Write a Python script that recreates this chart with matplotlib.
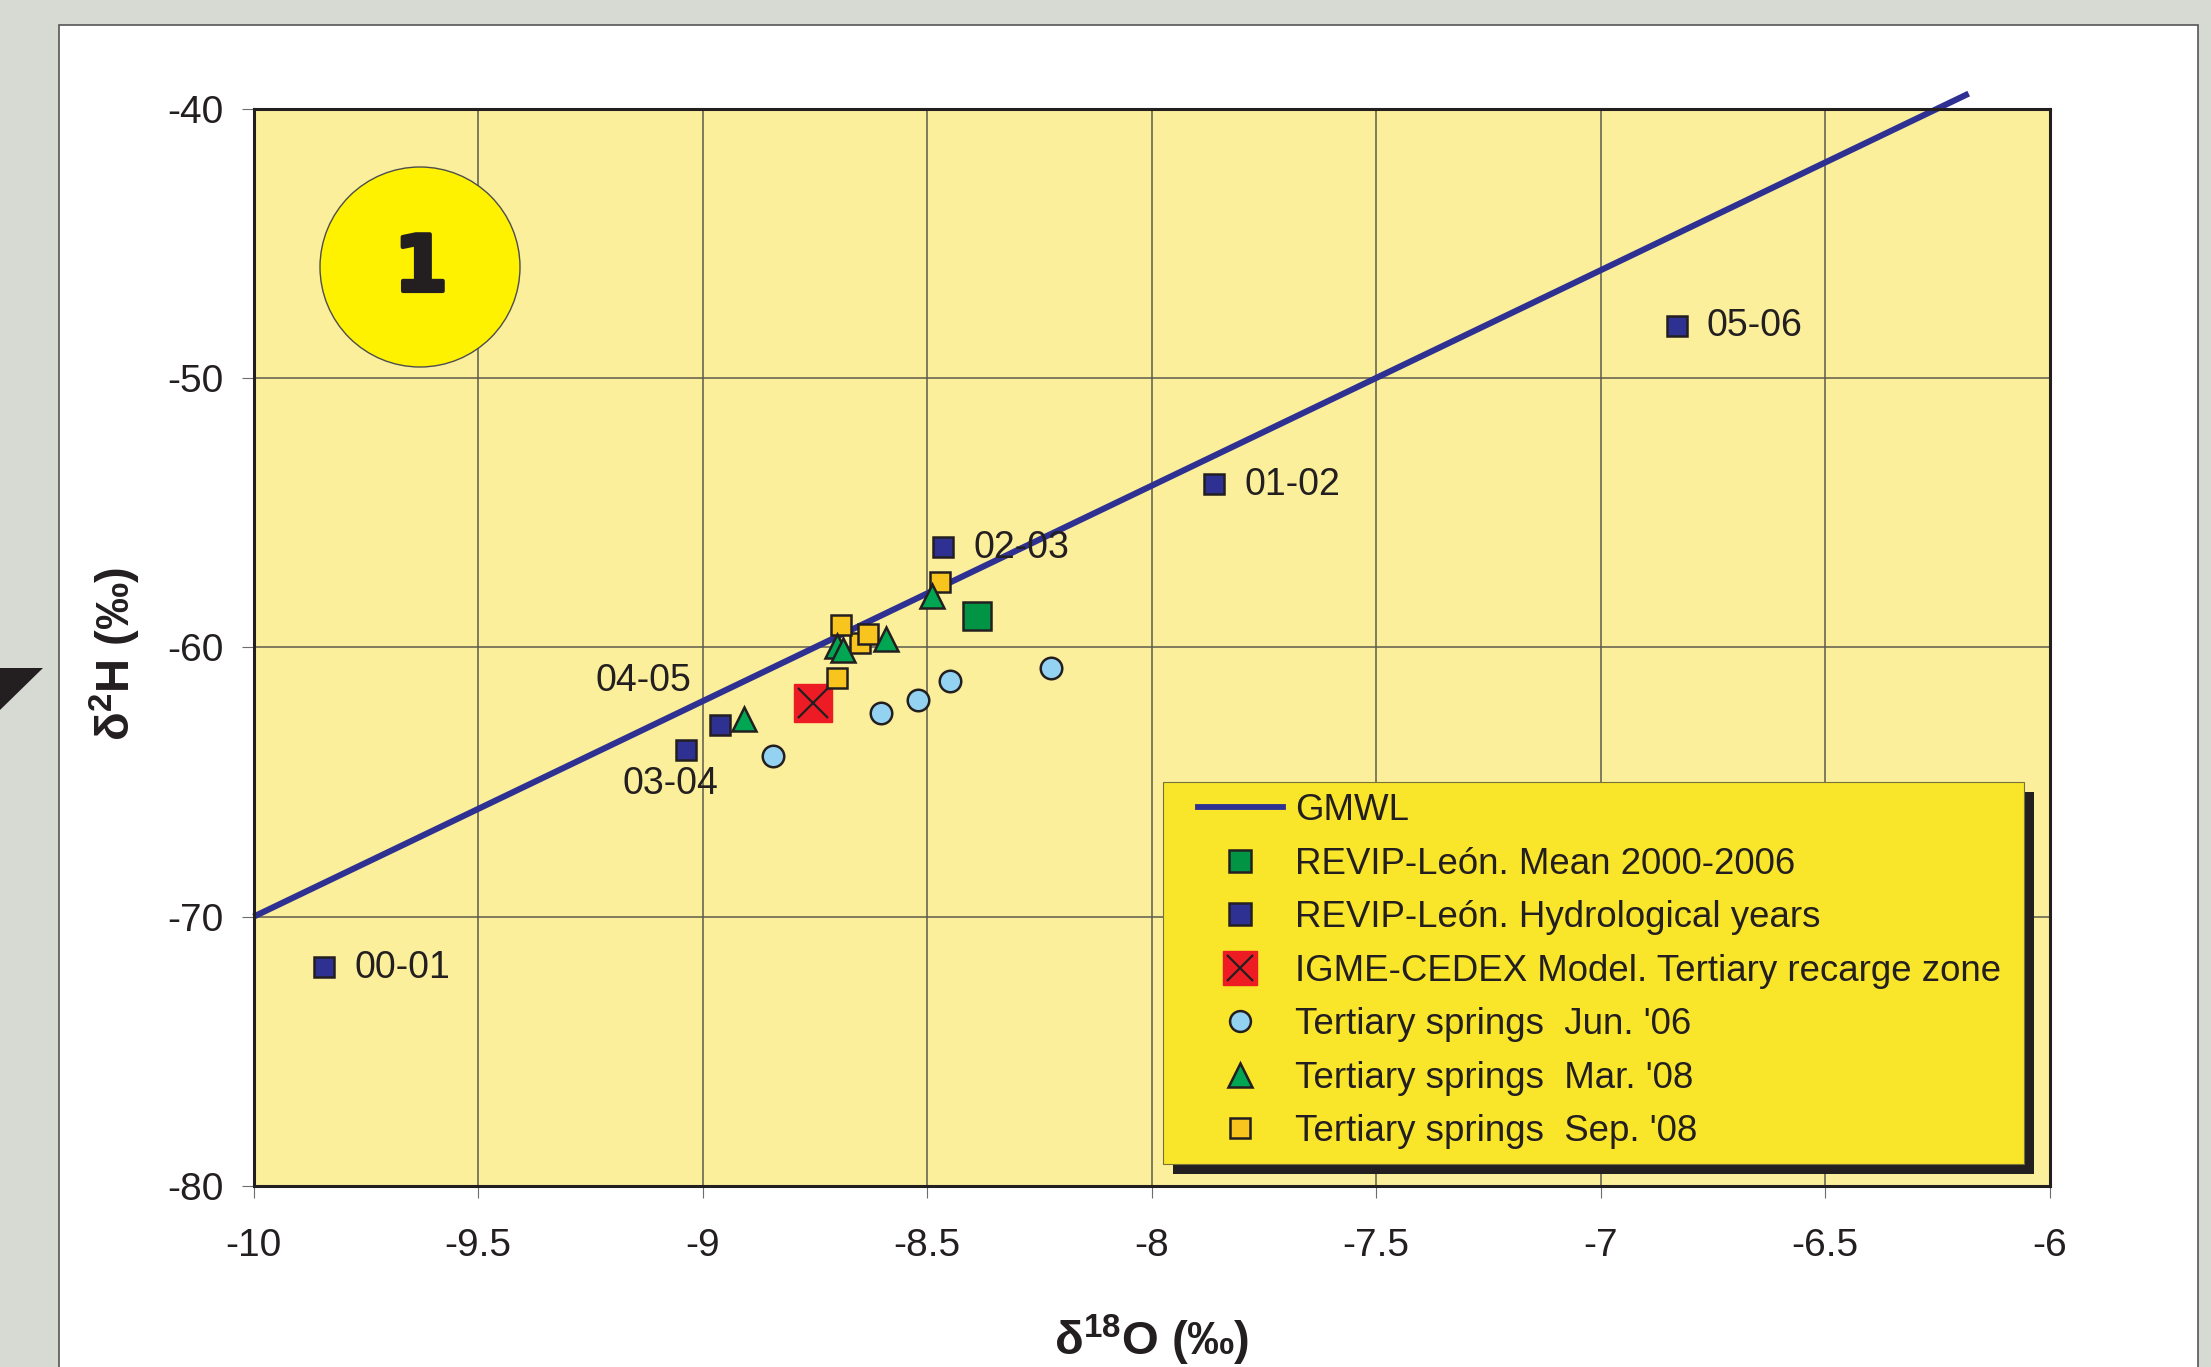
import matplotlib.pyplot as plt
import matplotlib.patheffects as pe
from matplotlib.patches import Rectangle, Circle, Polygon
from matplotlib.lines import Line2D
from matplotlib.legend_handler import HandlerTuple

plt.rcParams['font.family'] = ['Liberation Sans', 'DejaVu Sans']
plt.rcParams['mathtext.fontset'] = 'custom'
plt.rcParams['mathtext.rm'] = 'Liberation Sans:bold'
plt.rcParams['mathtext.it'] = 'Liberation Sans:bold'
plt.rcParams['mathtext.bf'] = 'Liberation Sans:bold'

# axis ticks
x_ticks = [-10, -9.5, -9, -8.5, -8, -7.5, -7, -6.5, -6]
x_tick_labels = ['-10', '-9.5', '-9', '-8.5', '-8', '-7.5', '-7', '-6.5', '-6']
y_ticks = [-80, -70, -60, -50, -40]
y_tick_labels = ['-80', '-70', '-60', '-50', '-40']

# GMWL end points
gmwl_x = [-10.0, -6.18]
gmwl_y = [-70.0, -39.44]

# REVIP-Leon mean 2000-2006
mean_x = [-8.388]
mean_y = [-58.84]

# REVIP-Leon hydrological years
hydro_years = ['00-01', '01-02', '02-03', '03-04', '04-05', '05-06']
hydro_x = [-9.843, -7.860, -8.465, -9.037, -8.961, -6.830]
hydro_y = [-71.87, -53.94, -56.27, -63.80, -62.88, -48.07]

# IGME-CEDEX model
igme_x = [-8.755]
igme_y = [-62.05]

# tertiary springs
jun06_x = [-8.843, -8.603, -8.520, -8.450, -8.224]
jun06_y = [-64.04, -62.42, -61.96, -61.25, -60.78]
mar08_x = [-8.908, -8.700, -8.688, -8.592, -8.489]
mar08_y = [-62.67, -59.94, -60.10, -59.69, -58.08]
sep08_x = [-8.650, -8.692, -8.631, -8.700, -8.471]
sep08_y = [-59.82, -59.16, -59.51, -61.12, -57.56]

legend_labels = ['GMWL', 'REVIP-León. Mean 2000-2006', 'REVIP-León. Hydrological years',
                 'IGME-CEDEX Model. Tertiary recarge zone', "Tertiary springs  Jun. '06",
                 "Tertiary springs  Mar. '08", "Tertiary springs  Sep. '08"]

W, H = 2211, 1367
DARK = '#231f20'
BLUE = '#2e3192'

fig = plt.figure(figsize=(W / 100, H / 100), dpi=100, facecolor='#d7d9d3')
inch = fig.dpi_scale_trans


def pos(xp, yp):
    # pixel (from top-left) -> inches
    return xp / 100, (H - yp) / 100


# white panel and the bit of background picture
panel = Rectangle(pos(59, H + 10), (2198 - 59) / 100, (H + 10 - 25) / 100, transform=inch,
                  fc='white', ec='#555555', lw=1.2, zorder=-1)
fig.patches.append(panel)
fig.patches.append(Polygon([pos(0, 668), pos(43, 668), pos(0, 710)], closed=True,
                           transform=inch, fc=DARK, ec='none', zorder=-1))

ax = fig.add_axes([253.6 / W, 1 - 1186 / H, (2049.5 - 253.6) / W, (1186 - 108.7) / H])
ax.set_facecolor('#fbef9c')
ax.set_xlim(-10, -6)
ax.set_ylim(-80, -40)
ax.set_xticks(x_ticks, x_tick_labels)
ax.set_yticks(y_ticks, y_tick_labels)
ax.set_axisbelow(True)
ax.grid(True, color='#5e5b4c', lw=1.1)
for s in ax.spines.values():
    s.set_color(DARK)
    s.set_linewidth(2.2)
ax.tick_params(direction='out', length=8.6, width=0.8, color='#6d6d6d',
               labelsize=28, labelcolor=DARK)
ax.tick_params(axis='x', pad=22)
ax.tick_params(axis='y', pad=13)

# GMWL
ax.plot(gmwl_x, gmwl_y, color=BLUE, lw=4.4, clip_on=False, zorder=2, solid_capstyle='butt')

mk = dict(ls='none', mec=DARK, mew=1.8)
ax.plot(mean_x, mean_y, marker='s', ms=20, mfc='#009444', zorder=3, **mk)
ax.plot(hydro_x, hydro_y, marker='s', ms=15, mfc=BLUE, zorder=3, **mk)
ax.plot(igme_x, igme_y, marker='s', ms=28, mfc='#ed1c24', mec='#ed1c24', ls='none', zorder=3)
ax.plot(igme_x, igme_y, marker='x', ms=21, mec=DARK, mew=1.6, ls='none', zorder=3)
ax.plot(jun06_x, jun06_y, marker='o', ms=15.5, mfc='#93d2f0', zorder=3, **mk)
ax.plot(sep08_x, sep08_y, marker='s', ms=15, mfc='#f8c41e', zorder=4, **mk)
ax.plot(mar08_x, mar08_y, marker='^', ms=17, mfc='#00a651', zorder=5, **mk)

# year labels
offsets = {'00-01': (22, -0.5, 'left'), '01-02': (22, -0.5, 'left'), '02-03': (22, -0.5, 'left'),
           '05-06': (21, 0, 'left'), '04-05': (-21, 31.5, 'right'), '03-04': (-11, -24.5, 'center')}
for lab, xv, yv in zip(hydro_years, hydro_x, hydro_y):
    dx, dy, ha = offsets[lab]
    ax.annotate(lab, (xv, yv), xytext=(dx, dy), textcoords='offset points',
                ha=ha, va='center', fontsize=27, color=DARK, zorder=6)

# badge
ax.add_patch(Circle(pos(420, 267), 1.0, transform=inch, fc='#fff200', ec='#4d4d4d',
                    lw=1.0, zorder=2))
ax.text(*pos(421, 269), '1', transform=inch, ha='center', va='center', fontsize=56,
        fontweight='bold', family='DejaVu Sans', color=DARK, zorder=3,
        path_effects=[pe.withStroke(linewidth=3, foreground=DARK)])

# axis titles
fig.text(1151.7 / W, 1 - 1355 / H, 'δ$^{18}$O (‰)', ha='center', va='baseline',
         fontsize=34, fontweight='bold', color=DARK)
fig.text(130 / W, 1 - 654 / H, 'δ$^{2}$H (‰)', ha='center', va='baseline', rotation=90,
         rotation_mode='anchor', fontsize=34, fontweight='bold', color=DARK)

# legend box with shadow
fig.patches.append(Rectangle(pos(1173, 1174), 8.61, 3.82, transform=inch, fc=DARK,
                             ec='none', zorder=2))
fig.patches.append(Rectangle(pos(1163, 1164), 8.61, 3.82, transform=inch, fc='#f9e52a',
                             ec='#77713a', lw=0.8, zorder=2))

handles = [
    Line2D([], [], color=BLUE, lw=4.2),
    Line2D([], [], marker='s', ms=16, mfc='#009444', **mk),
    Line2D([], [], marker='s', ms=16, mfc=BLUE, **mk),
    (Line2D([], [], marker='s', ms=24, mfc='#ed1c24', mec='#ed1c24', ls='none'),
     Line2D([], [], marker='x', ms=19, mec=DARK, mew=1.6, ls='none')),
    Line2D([], [], marker='o', ms=15, mfc='#93d2f0', **mk),
    Line2D([], [], marker='^', ms=17, mfc='#00a651', **mk),
    Line2D([], [], marker='s', ms=15, mfc='#f8c41e', **mk),
]
fig.legend(handles, legend_labels, loc='upper left', bbox_to_anchor=pos(1197.6, 793),
           bbox_transform=inch, frameon=False, borderpad=0, borderaxespad=0,
           fontsize=26.4, labelspacing=0.505, handlelength=2.33, handletextpad=0.33,
           handler_map={tuple: HandlerTuple(ndivide=1)}, labelcolor=DARK)

fig.savefig('out.png', dpi=100, facecolor=fig.get_facecolor())
